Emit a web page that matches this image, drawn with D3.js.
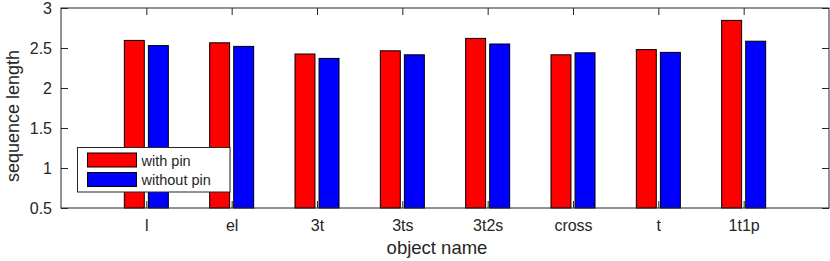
<!DOCTYPE html>
<html>
<head>
<meta charset="utf-8">
<script src="https://cdn.jsdelivr.net/npm/d3@7"></script>
<style>
  body { margin: 0; background: #fff; }
  text { font-family: "Liberation Sans", Arial, sans-serif; fill: #262626; }
</style>
</head>
<body>
<div id="chart"></div>
<script>
// chart data
var objectNames = ["l", "el", "3t", "3ts", "3t2s", "cross", "t", "1t1p"];
var withPin = [2.595, 2.565, 2.425, 2.465, 2.62, 2.415, 2.48, 2.845];
var withoutPin = [2.53, 2.52, 2.37, 2.415, 2.55, 2.44, 2.445, 2.585];
var yTicks = [0.5, 1, 1.5, 2, 2.5, 3];
var seriesNames = ["with pin", "without pin"];
var seriesColors = ["#ff0000", "#0000ff"];

var svgWidth = 830;
var svgHeight = 261;

var margin = { top: 8, right: 1, bottom: 53, left: 61 };
var width = svgWidth - margin.left - margin.right;
var height = svgHeight - margin.top - margin.bottom;

var svg = d3.select("#chart")
  .append("svg")
  .attr("width", svgWidth)
  .attr("height", svgHeight);

var chartGroup = svg.append("g")
  .attr("transform", `translate(${margin.left}, ${margin.top})`);

// scales: categories sit at 1..n, with one step of room each side
var xScale = d3.scaleLinear()
  .domain([0, objectNames.length + 1])
  .range([0, width]);

var yScale = d3.scaleLinear()
  .domain([0.5, 3])
  .range([height, 0]);

var barOffset = 0.141;
var barWidth = xScale(0.234) - xScale(0);

// bars
var series = [withPin, withoutPin];
series.forEach(function(values, s) {
  chartGroup.selectAll(".bar" + s)
    .data(values)
    .enter()
    .append("rect")
    .attr("class", "bar" + s)
    .attr("x", (d, i) => xScale(i + 1 + (s === 0 ? -barOffset : barOffset)) - barWidth / 2)
    .attr("y", d => yScale(d))
    .attr("width", barWidth)
    .attr("height", d => yScale(0.5) - yScale(d))
    .attr("fill", seriesColors[s])
    .attr("stroke", "#000")
    .attr("stroke-width", 1);
});

// axes (MATLAB style: ticks inward, box on)
var tickLen = 7;
var xAxis = d3.axisBottom(xScale)
  .tickValues(d3.range(1, objectNames.length + 1))
  .tickFormat((d, i) => objectNames[i])
  .tickSizeInner(-tickLen)
  .tickSizeOuter(0)
  .tickPadding(12);

var yAxis = d3.axisLeft(yScale)
  .tickValues(yTicks)
  .tickFormat(d3.format("~g"))
  .tickSizeInner(-tickLen)
  .tickSizeOuter(0)
  .tickPadding(9);

var xAxisTop = d3.axisTop(xScale)
  .tickValues(d3.range(1, objectNames.length + 1))
  .tickFormat("")
  .tickSizeInner(-tickLen)
  .tickSizeOuter(0);

var yAxisRight = d3.axisRight(yScale)
  .tickValues(yTicks)
  .tickFormat("")
  .tickSizeInner(-tickLen)
  .tickSizeOuter(0);

var axisColor = "#262626";

function styleAxis(g) {
  g.select(".domain").remove();
  g.selectAll(".tick line").attr("stroke", axisColor);
  g.selectAll(".tick text")
    .style("font-size", "16px")
    .attr("fill", axisColor);
}

chartGroup.append("g")
  .attr("transform", `translate(0, ${height})`)
  .call(xAxis)
  .call(styleAxis);

chartGroup.append("g")
  .call(yAxis)
  .call(styleAxis);

chartGroup.append("g")
  .call(xAxisTop)
  .call(styleAxis);

chartGroup.append("g")
  .attr("transform", `translate(${width}, 0)`)
  .call(yAxisRight)
  .call(styleAxis);

// box
chartGroup.append("rect")
  .attr("x", 0)
  .attr("y", 0)
  .attr("width", width)
  .attr("height", height)
  .attr("fill", "none")
  .attr("stroke", axisColor)
  .attr("stroke-width", 1);

// axis labels
svg.append("text")
  .attr("transform", "rotate(-90)")
  .attr("x", -116)
  .attr("y", 18.5)
  .attr("text-anchor", "middle")
  .style("font-size", "18px")
  .text("sequence length");

svg.append("text")
  .attr("x", 437)
  .attr("y", 254)
  .attr("text-anchor", "middle")
  .style("font-size", "18.5px")
  .text("object name");

// legend
var legend = svg.append("g")
  .attr("transform", "translate(77.5, 147.5)");

legend.append("rect")
  .attr("width", 152.5)
  .attr("height", 44.5)
  .attr("fill", "#fff")
  .attr("stroke", axisColor);

seriesNames.forEach(function(name, s) {
  legend.append("rect")
    .attr("x", 10)
    .attr("y", 5.5 + s * 19.5)
    .attr("width", 49)
    .attr("height", 14)
    .attr("fill", seriesColors[s])
    .attr("stroke", "#000");

  legend.append("text")
    .attr("x", 64)
    .attr("y", 18 + s * 19.5)
    .style("font-size", "14.5px")
    .text(name);
});
</script>
</body>
</html>
